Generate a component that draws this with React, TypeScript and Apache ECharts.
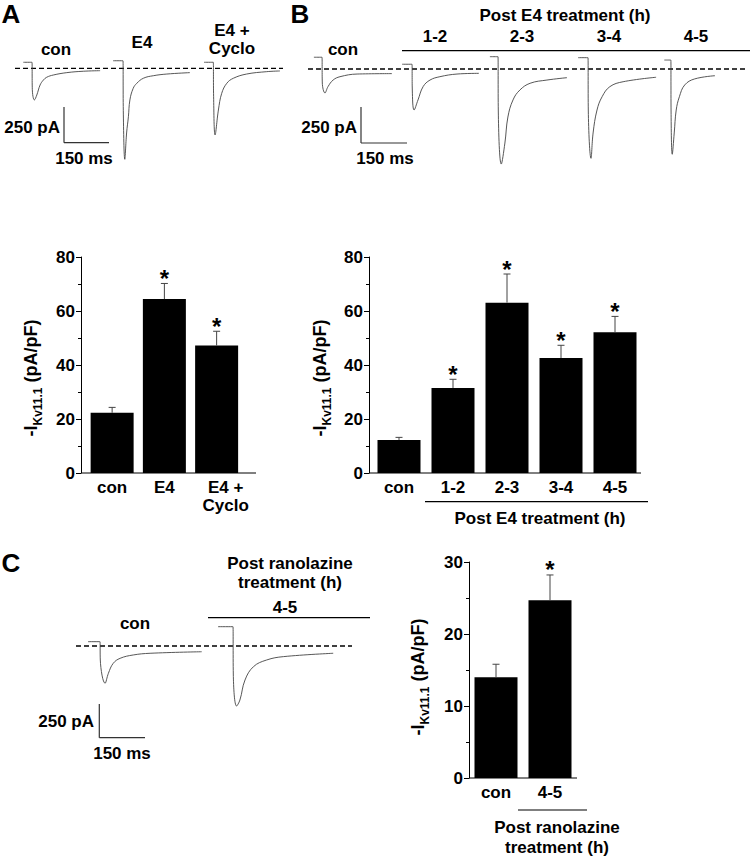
import React, { useEffect, useRef } from "react";
import * as echarts from "echarts";

// ---------- DATA ----------
// Whole-cell current traces: [time (ms) from step, current (pA) relative to baseline]
const traceAcon = [[-29, 43], [0, 43], [1, -150], [8, -226], [16, -191], [27, -119], [38, -84], [49, -64], [71, -48], [116, -31], [171, -21], [227, -17]];
const traceAE4 = [[-33, 54], [0, 54], [1, -300], [6, -650], [12, -462], [18, -346], [23, -226], [34, -143], [46, -107], [68, -71], [101, -53], [146, -41], [223, -31]];
const traceACyclo = [[-31, 43], [0, 43], [1, -200], [6, -476], [17, -298], [28, -179], [45, -107], [67, -71], [111, -41], [178, -24], [222, -19]];
const traceBcon = [[-27, 84], [0, 84], [1, -100], [10, -171], [20, -126], [37, -79], [60, -55], [117, -36], [233, -33]];
const traceB12 = [[-33, 34], [0, 34], [1, -150], [7, -293], [20, -221], [37, -126], [60, -79], [93, -55], [150, -36], [223, -31]];
const traceB23 = [[-27, 88], [0, 88], [1, -300], [11, -679], [23, -529], [33, -343], [50, -221], [73, -150], [107, -102], [163, -79], [230, -62]];
const traceB34 = [[-33, 81], [0, 81], [1, -300], [10, -638], [17, -457], [30, -293], [47, -198], [73, -126], [117, -91], [227, -59]];
const traceB45 = [[-33, 64], [0, 64], [1, -300], [7, -609], [17, -457], [27, -293], [43, -198], [70, -114], [120, -71], [223, -48]];
const traceCcon = [[-40, 31], [0, 31], [1, -100], [17, -266], [28, -195], [44, -124], [67, -88], [111, -64], [167, -52], [339, -41]];
const traceC45 = [[-50, 138], [0, 138], [1, -200], [12, -429], [23, -386], [40, -243], [68, -148], [112, -100], [168, -76], [334, -52]];

// Bar charts: mean and SEM of -I_Kv11.1 (pA/pF)
const catsA = ["con", "E4", "E4 +\nCyclo"];
const meanA = [22.3, 64.4, 47.2];
const semA = [2.0, 5.8, 5.3];
const sigA = [0, 1, 1];

const catsB = ["con", "1-2", "2-3", "3-4", "4-5"];
const meanB = [12.2, 31.5, 63.1, 42.6, 52.1];
const semB = [1.0, 3.2, 10.6, 4.7, 5.9];
const sigB = [0, 1, 1, 1, 1];

const catsC = ["con", "4-5"];
const meanC = [14.0, 24.7];
const semC = [1.8, 3.5];
const sigC = [0, 1];

const ticksAB = { min: 0, max: 80, interval: 20 };
const ticksC = { min: 0, max: 30, interval: 10 };

// ---------- LAYOUT ----------
const FONT = '"Liberation Sans", Arial, Helvetica, sans-serif';
const traceLayout = [
  { data: traceAcon, dropX: 32, baseY: 68.3 },
  { data: traceAE4, dropX: 123, baseY: 68.3 },
  { data: traceACyclo, dropX: 213.3, baseY: 68.3 },
  { data: traceBcon, dropX: 322, baseY: 69 },
  { data: traceB12, dropX: 412, baseY: 69 },
  { data: traceB23, dropX: 498, baseY: 69 },
  { data: traceB34, dropX: 588, baseY: 69 },
  { data: traceB45, dropX: 677, baseY: 69 },
  { data: traceCcon, dropX: 100, baseY: 646 },
  { data: traceC45, dropX: 233, baseY: 646 },
];
// scale: 0.3 px / ms, 0.14 px / pA
const T_MIN = -60, T_MAX = 400, I_MIN = -800, I_MAX = 200;

const txt = (text: string, x: number, y: number, size = 16, align = "center", weight = "bold") => ({
  type: "text",
  x,
  y,
  silent: true,
  style: {
    text,
    fill: "#000",
    font: `${weight} ${size}px ${FONT}`,
    align,
    verticalAlign: "middle",
    textAlign: align,
    textVerticalAlign: "middle",
  },
});
const ln = (x1: number, y1: number, x2: number, y2: number, w = 1, dash?: number[], color = "#000") => ({
  type: "line",
  silent: true,
  shape: { x1, y1, x2, y2 },
  style: { stroke: color, lineWidth: w, lineDash: dash },
});
const axName = (x: number, y: number) => ({
  type: "text",
  x,
  y,
  rotation: Math.PI / 2,
  silent: true,
  style: {
    text: "{b|-I}{s|Kv11.1}{b| (pA/pF)}",
    align: "center",
    verticalAlign: "middle",
    textAlign: "center",
    textVerticalAlign: "middle",
    rich: {
      b: { fontSize: 18, fontWeight: "bold", fontFamily: FONT, fill: "#000", color: "#000", lineHeight: 22, verticalAlign: "top" },
      s: { fontSize: 12, fontWeight: "bold", fontFamily: FONT, fill: "#000", color: "#000", lineHeight: 12, verticalAlign: "bottom", padding: [11, 0, 0, 0] },
    },
  },
});

export default function App() {
  const ref = useRef<HTMLDivElement>(null);
  useEffect(() => {
    if (!ref.current) return;
    const chart = echarts.init(ref.current, undefined, { renderer: "svg" });

    const grids: any[] = [];
    const xAxes: any[] = [];
    const yAxes: any[] = [];
    const series: any[] = [];

    traceLayout.forEach((t, i) => {
      grids.push({ left: t.dropX + T_MIN * 0.3, top: t.baseY - I_MAX * 0.14, width: (T_MAX - T_MIN) * 0.3, height: (I_MAX - I_MIN) * 0.14 });
      xAxes.push({ type: "value", gridIndex: i, min: T_MIN, max: T_MAX, show: false });
      yAxes.push({ type: "value", gridIndex: i, min: I_MIN, max: I_MAX, show: false });
      series.push({
        type: "line",
        xAxisIndex: i,
        yAxisIndex: i,
        data: t.data,
        symbol: "none",
        smooth: 0.4,
        silent: true,
        lineStyle: { color: "#444", width: 0.9 },
      });
    });

    const barPanels = [
      { cats: catsA, mean: meanA, sem: semA, sig: sigA, ticks: ticksAB, grid: { left: 86, top: 257, width: 156.75, height: 216 }, offset: 5 },
      { cats: catsB, mean: meanB, sem: semB, sig: sigB, ticks: ticksAB, grid: { left: 372, top: 257, width: 270, height: 216 }, offset: 3 },
      { cats: catsC, mean: meanC, sem: semC, sig: sigC, ticks: ticksC, grid: { left: 469, top: 562, width: 108, height: 216 }, offset: 0 },
    ];
    barPanels.forEach((p) => {
      const gi = grids.length;
      grids.push(p.grid);
      xAxes.push({
        type: "category",
        gridIndex: gi,
        data: p.cats,
        axisLine: { show: false },
        axisTick: { show: false },
        axisLabel: {
          interval: 0,
          color: "#000",
          fontSize: 17,
          fontWeight: "bold",
          fontFamily: FONT,
          margin: 5,
          lineHeight: 18,
          formatter: (v: string) => (v.indexOf("\n") >= 0 ? v.split("\n").map((s) => `{r|${s}}`).join("\n") : v),
          rich: { r: { fontSize: 17, fontWeight: "bold", fontFamily: FONT, color: "#000", lineHeight: 18, padding: [0, 0, 0, 18] } },
        },
      });
      yAxes.push({
        type: "value",
        gridIndex: gi,
        min: p.ticks.min,
        max: p.ticks.max,
        interval: p.ticks.interval,
        offset: p.offset,
        axisLine: { show: true, lineStyle: { color: "#000", width: 1 } },
        axisTick: { show: true, length: 5, lineStyle: { color: "#000" } },
        minorTick: { show: true, splitNumber: 2, length: 3, lineStyle: { color: "#000" } },
        splitLine: { show: false },
        axisLabel: { color: "#000", fontSize: 17, fontWeight: "bold", fontFamily: FONT, margin: 6 },
      });
      series.push({
        type: "bar",
        xAxisIndex: gi,
        yAxisIndex: gi,
        data: p.mean,
        barWidth: 43,
        silent: true,
        itemStyle: { color: "#000" },
      });
      series.push({
        type: "custom",
        xAxisIndex: gi,
        yAxisIndex: gi,
        silent: true,
        z: 5,
        data: p.mean.map((m, k) => [k, m, p.sem[k], p.sig[k]]),
        renderItem: (params: any, api: any) => {
          const x = api.value(0), v = api.value(1), e = api.value(2), s = api.value(3);
          const b = api.coord([x, v]);
          const t = api.coord([x, v + e]);
          const children: any[] = [
            { type: "line", shape: { x1: b[0], y1: b[1], x2: t[0], y2: t[1] }, style: { stroke: "#444", lineWidth: 1 } },
            { type: "line", shape: { x1: t[0] - 3.5, y1: t[1], x2: t[0] + 3.5, y2: t[1] }, style: { stroke: "#444", lineWidth: 1 } },
          ];
          if (s) {
            children.push({
              type: "text",
              x: t[0],
              y: t[1] - 5,
              style: { text: "*", fill: "#000", font: `bold 24px ${FONT}`, align: "center", verticalAlign: "middle" },
            });
          }
          return { type: "group", children };
        },
      });
    });

    const graphic: any[] = [
      // Panel A
      txt("A", 11, 14, 26),
      txt("con", 56, 49, 17),
      txt("E4", 142, 42, 17),
      txt("E4 +", 232, 30, 17),
      txt("Cyclo", 232, 48, 17),
      ln(15, 68.3, 283, 68.3, 1.3, [5, 3]),
      ln(64, 107, 64, 142.7, 1.2, undefined, "#333"),
      ln(64, 142.7, 109, 142.7, 1.2, undefined, "#333"),
      txt("250 pA", 60, 127, 17, "right"),
      txt("150 ms", 84, 158, 17),
      // Panel B
      txt("B", 300, 14, 26),
      txt("con", 343, 49, 17),
      txt("Post E4 treatment (h)", 565, 15, 17),
      txt("1-2", 435, 36, 17),
      txt("2-3", 522, 36, 17),
      txt("3-4", 609, 36, 17),
      txt("4-5", 696, 36, 17),
      ln(402, 50.7, 750, 50.7, 1.3),
      ln(308, 69, 748, 69, 1.3, [5, 3]),
      ln(361, 107, 361, 143, 1.2, undefined, "#333"),
      ln(361, 143, 407, 143, 1.2, undefined, "#333"),
      txt("250 pA", 357, 127, 17, "right"),
      txt("150 ms", 385, 158, 17),
      // Panel C
      txt("C", 11, 563, 26),
      txt("Post ranolazine", 290, 563, 17),
      txt("treatment (h)", 290, 582, 17),
      txt("4-5", 285, 607, 17),
      ln(208, 617.7, 370, 617.7, 1.3),
      txt("con", 135, 623, 17),
      ln(76, 646, 352, 646, 1.3, [5, 3]),
      ln(99.3, 704, 99.3, 737.7, 1.2, undefined, "#333"),
      ln(99.3, 737.7, 145, 737.7, 1.2, undefined, "#333"),
      txt("250 pA", 94, 721, 17, "right"),
      txt("150 ms", 122, 753, 17),
      // bar chart x-axis lines
      ln(81, 473, 256, 473, 1),
      ln(369, 473, 641, 473, 1),
      ln(469, 778, 577, 778, 1),
      // bracket B bar chart
      ln(425, 501.7, 648, 501.7, 1.2),
      txt("Post E4 treatment (h)", 540, 518, 17),
      // bracket C bar chart
      ln(518, 810, 587, 810, 1.2),
      txt("Post ranolazine", 557, 827, 17),
      txt("treatment (h)", 557, 847, 17),
      // y axis names
      axName(33, 378),
      axName(322, 378),
      axName(420, 677),
    ];

    chart.setOption({
      animation: false,
      backgroundColor: "#fff",
      grid: grids,
      xAxis: xAxes,
      yAxis: yAxes,
      series,
      graphic,
    });
    return () => chart.dispose();
  }, []);

  return <div ref={ref} style={{ position: "fixed", left: 0, top: 0, width: 750, height: 857, background: "#fff" }} />;
}
